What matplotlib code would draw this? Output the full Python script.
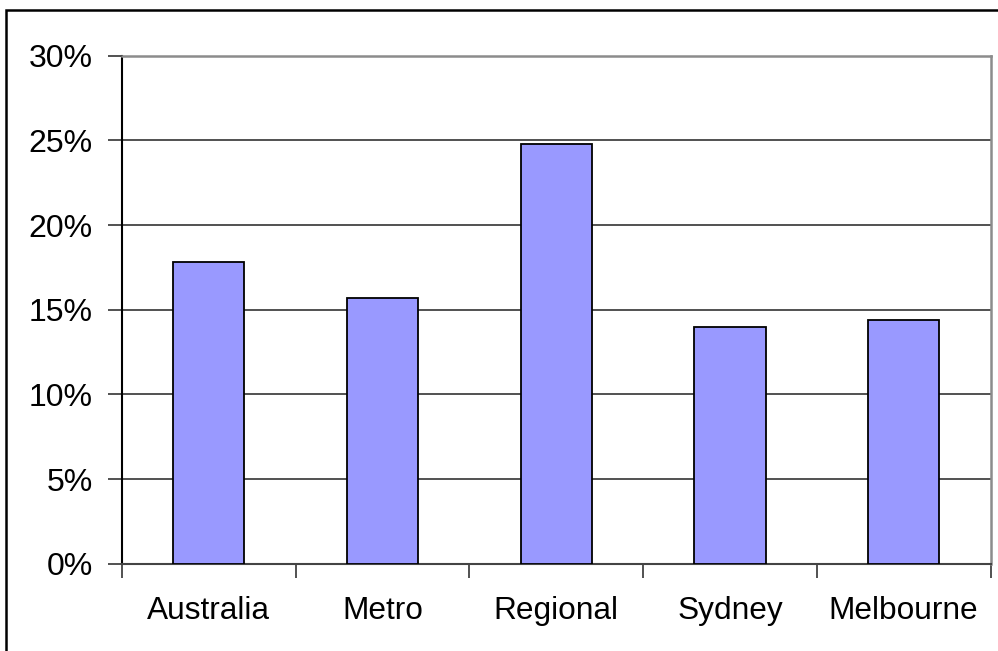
import numpy as np
import matplotlib.pyplot as plt
from matplotlib.patches import Rectangle

categories = ["Australia", "Metro", "Regional", "Sydney", "Melbourne"]
values = [17.8, 15.7, 24.8, 14.0, 14.4]
yticks = [0, 5, 10, 15, 20, 25, 30]

plt.rcParams['font.family'] = ['Liberation Sans', 'DejaVu Sans']

fig = plt.figure(figsize=(9.98, 6.51), dpi=100)
ax = fig.add_axes([122 / 998, 1 - 563.7 / 651, (990.5 - 122) / 998, (563.7 - 55.7) / 651])

x = np.arange(len(categories))
ax.bar(x, values, width=0.41, color="#9999FF", edgecolor="black", linewidth=1.3, zorder=3)

ax.set_xlim(-0.5, len(categories) - 0.5)
ax.set_ylim(0, 30)
ax.set_yticks(yticks)
ax.set_yticklabels(["{}%".format(t) for t in yticks], fontsize=23)
ax.yaxis.grid(True, color="#333333", linewidth=1.2, zorder=0)

ax.set_xticks(x)
ax.set_xticklabels(categories, fontsize=22.8)
ax.tick_params(axis="x", which="major", length=0, pad=23)
ax.set_xticks(np.arange(-0.5, len(categories)), minor=True)
ax.tick_params(axis="x", which="minor", length=10, width=1.2, color="#333333", direction="out")
ax.tick_params(axis="y", length=10, width=1.2, pad=11, color="#333333")

ax.spines["left"].set_color("black")
ax.spines["left"].set_linewidth(1.5)
ax.spines["bottom"].set_color("#444444")
ax.spines["bottom"].set_linewidth(1.5)
ax.spines["top"].set_color("#8c8c8c")
ax.spines["top"].set_linewidth(1.8)
ax.spines["right"].set_color("#8c8c8c")
ax.spines["right"].set_linewidth(1.8)

# outer chart border
fig.patches.append(Rectangle((6 / 998, -0.05), 1.1, 1 - 10 / 651 + 0.05,
                             transform=fig.transFigure, fill=False,
                             edgecolor="black", linewidth=1.8))

fig.savefig("out.png", dpi=100)
